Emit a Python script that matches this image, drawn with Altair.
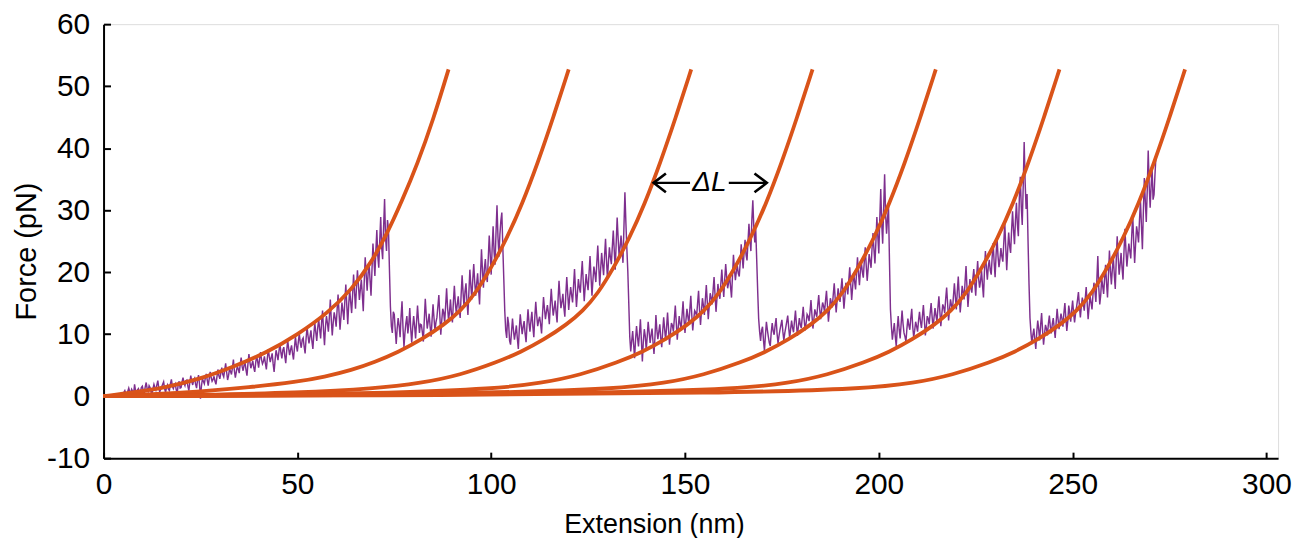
import altair as alt
import pandas as pd

# ---------------- data ----------------
# Measured force trace (purple), one value every 0.25 nm starting at 5.0 nm
trace_start = 5.0
trace_step = 0.25
trace_force = [
    0.2, 0.6, 0.9, 0.4, 0.1, 0.8, 1.3, 0.7, 0.5, 1.1, 0.8, 0.3, 1.9, 0.9, 0.4, 1.0, 1.2, 0.3, 0.6, 1.4,
    1.6, 0.9, 0.5, 1.5, 2.2, 1.2, 0.8, 1.7, 1.4, 0.7, 0.3, 1.2, 1.9, 1.4, 1.0, 1.8, 2.5, 1.3, 0.7, 1.1,
    1.5, 1.9, 2.3, 1.2, 0.6, 1.4, 1.8, 1.1, 0.9, 2.0, 2.7, 1.6, 1.2, 1.7, 2.0, 1.0, 0.5, 1.8, 2.4, 1.3,
    1.4, 2.3, 3.0, 2.1, 1.7, 2.5, 2.6, 1.6, 0.9, 2.2, 3.3, 2.4, 1.8, 2.6, 2.9, 1.9, 1.3, 2.6, 3.4, 2.0,
    -0.4, 1.6, 2.8, 2.4, 2.0, 2.9, 3.6, 2.6, 1.7, 2.8, 3.9, 3.0, 2.4, 2.7, 3.2, 2.4, 1.9, 3.1, 4.3, 3.3,
    2.8, 3.7, 4.6, 3.5, 3.1, 4.2, 5.3, 3.9, 2.6, 3.3, 4.4, 4.0, 3.5, 4.6, 5.9, 4.1, 3.0, 3.9, 4.8, 4.4,
    3.7, 5.1, 6.2, 4.8, 4.1, 5.0, 5.4, 4.2, 3.3, 5.2, 6.8, 5.5, 4.5, 5.1, 5.7, 4.6, 3.9, 5.4, 6.5, 5.6,
    4.6, 6.0, 7.1, 5.9, 5.2, 5.6, 6.4, 5.3, 4.3, 6.1, 7.6, 6.4, 5.5, 6.2, 6.9, 5.2, 3.9, 5.8, 7.4, 6.7,
    5.8, 7.2, 8.5, 7.0, 6.1, 7.4, 7.9, 6.5, 5.3, 7.3, 9.0, 7.7, 6.6, 7.5, 8.2, 6.9, 5.9, 7.8, 9.6, 8.1,
    7.2, 8.8, 10.1, 8.6, 7.8, 9.1, 9.4, 8.0, 6.9, 9.3, 11.2, 9.7, 8.5, 9.6, 10.6, 8.9, 7.6, 10.0, 11.8, 10.3,
    8.9, 11.0, 12.4, 10.8, 9.3, 11.9, 13.8, 10.6, 8.2, 11.2, 12.9, 11.8, 10.4, 12.7, 15.6, 12.3, 9.8, 11.9, 13.5, 12.6,
    11.2, 13.9, 16.4, 13.5, 10.7, 12.8, 15.1, 13.7, 12.3, 15.4, 18.0, 14.6, 11.6, 14.8, 17.2, 15.2, 13.4, 16.3, 19.6, 16.8,
    14.1, 17.6, 20.3, 17.9, 15.5, 17.2, 18.8, 16.4, 13.7, 18.5, 22.4, 19.6, 17.0, 19.8, 21.5, 18.7, 16.2, 20.4, 24.6, 22.0,
    19.4, 23.5, 26.8, 22.6, 20.7, 25.1, 28.9, 24.0, 22.1, 27.3, 31.8, 25.6, 23.4, 28.4, 27.0, 20.5, 14.5, 11.3, 10.2, 13.6,
    13.2, 10.7, 8.4, 10.9, 12.6, 11.4, 9.5, 12.8, 15.3, 11.0, 7.9, 10.2, 11.8, 12.9, 10.1, 11.6, 14.2, 10.8, 8.6, 11.1,
    12.9, 11.3, 9.3, 12.0, 14.6, 12.2, 10.2, 11.6, 11.5, 10.3, 8.8, 12.4, 15.7, 13.1, 10.9, 12.0, 13.3, 11.2, 9.6, 12.3,
    14.8, 12.6, 10.5, 11.9, 12.7, 14.5, 16.3, 13.0, 9.9, 12.2, 14.1, 13.5, 11.8, 14.6, 17.4, 14.3, 12.2, 13.6, 15.6, 13.2,
    11.9, 15.2, 17.8, 15.0, 13.4, 14.8, 16.1, 14.1, 12.6, 16.4, 19.5, 16.7, 14.3, 16.9, 18.2, 15.3, 13.1, 16.8, 20.4, 17.9,
    15.6, 18.8, 21.3, 18.4, 16.2, 18.1, 19.8, 17.2, 14.8, 19.6, 23.7, 20.3, 17.5, 20.6, 22.1, 19.5, 18.4, 22.3, 25.9, 22.8,
    19.6, 23.9, 27.4, 23.2, 21.2, 26.5, 30.8, 25.7, 22.5, 26.1, 28.3, 29.6, 24.1, 19.0, 13.8, 10.6, 9.4, 12.8, 11.7, 8.9,
    8.3, 10.4, 12.5, 10.6, 9.1, 10.2, 11.4, 9.3, 7.6, 10.8, 13.2, 11.5, 10.0, 11.2, 12.1, 10.1, 8.7, 11.6, 14.0, 11.9,
    10.4, 12.1, 13.6, 11.2, 9.5, 12.7, 15.2, 13.0, 11.3, 12.2, 12.8, 11.6, 10.1, 13.3, 16.0, 14.1, 12.4, 13.6, 14.7, 13.4,
    11.6, 14.7, 17.3, 14.9, 13.0, 14.1, 15.4, 13.5, 11.9, 15.6, 18.6, 16.0, 14.2, 15.2, 16.5, 14.3, 12.8, 16.4, 19.2, 16.5,
    13.9, 16.0, 17.6, 16.3, 15.1, 17.8, 20.5, 17.2, 14.4, 16.6, 18.9, 17.5, 16.7, 19.5, 21.8, 18.4, 15.3, 17.6, 19.7, 18.2,
    17.1, 19.9, 22.6, 19.3, 16.2, 18.7, 20.9, 19.8, 18.4, 21.5, 24.3, 21.0, 17.8, 20.6, 23.1, 21.2, 19.5, 22.6, 25.4, 21.9,
    18.9, 21.6, 24.0, 22.4, 21.3, 24.1, 26.7, 23.5, 20.4, 24.7, 28.8, 25.5, 22.6, 24.0, 25.9, 23.9, 21.5, 27.3, 32.9, 28.0,
    23.8, 20.1, 14.9, 9.6, 7.2, 8.9, 10.5, 8.3, 6.1, 9.2, 11.3, 9.5, 8.0, 10.1, 12.4, 9.0, 5.6, 8.8, 10.8, 9.7,
    7.4, 9.6, 12.0, 10.3, 8.6, 9.9, 10.9, 8.7, 6.8, 9.5, 13.1, 10.6, 9.2, 10.4, 11.6, 9.3, 7.9, 10.5, 12.7, 10.8,
    9.0, 11.1, 13.5, 10.9, 8.3, 10.2, 11.8, 11.4, 10.4, 12.5, 14.6, 11.9, 9.1, 11.0, 12.9, 11.7, 10.8, 13.1, 15.3, 12.4,
    10.2, 12.3, 14.1, 12.8, 11.7, 14.0, 16.2, 13.1, 10.6, 12.4, 13.8, 13.5, 12.9, 15.0, 17.0, 13.9, 11.5, 13.7, 15.8, 14.6,
    13.1, 15.6, 17.9, 15.2, 12.4, 14.5, 16.6, 15.9, 14.8, 17.1, 19.2, 16.3, 13.6, 15.8, 18.1, 16.5, 15.7, 18.2, 20.4, 17.9,
    16.0, 18.9, 21.3, 19.2, 17.4, 18.3, 19.6, 17.6, 15.9, 19.4, 22.8, 20.5, 18.7, 20.1, 21.0, 19.8, 19.3, 21.6, 24.5, 22.4,
    20.6, 23.3, 25.2, 22.8, 21.9, 24.9, 27.8, 25.1, 23.4, 28.5, 31.6, 27.2, 24.8, 26.9, 22.0, 17.0, 12.5, 10.4, 8.9, 10.6,
    11.2, 9.0, 7.3, 9.8, 12.0, 10.7, 9.6, 8.6, 8.1, 10.3, 11.8, 10.5, 9.9, 11.4, 12.6, 10.1, 8.5, 9.7, 10.7, 11.5,
    12.3, 10.4, 9.0, 10.2, 11.1, 12.0, 13.0, 11.1, 9.4, 10.8, 12.2, 11.0, 10.3, 12.1, 13.8, 11.6, 9.7, 11.2, 12.6, 11.5,
    11.0, 12.7, 14.4, 12.3, 10.6, 11.8, 13.2, 12.9, 12.1, 13.6, 15.5, 13.1, 10.9, 12.4, 14.0, 13.3, 12.8, 14.7, 16.3, 14.0,
    12.4, 13.9, 15.1, 14.5, 13.6, 15.4, 17.0, 14.6, 12.0, 13.8, 15.8, 15.1, 14.3, 16.4, 18.2, 15.7, 13.5, 15.5, 17.4, 16.2,
    15.2, 17.3, 19.0, 16.6, 14.1, 16.0, 18.3, 17.5, 16.4, 18.7, 20.8, 18.1, 15.5, 17.6, 19.9, 18.5, 17.2, 19.8, 22.4, 19.9,
    17.9, 20.2, 21.6, 20.0, 19.1, 21.7, 24.0, 21.1, 18.6, 20.6, 22.9, 21.8, 20.7, 23.8, 26.3, 23.6, 21.4, 24.9, 28.9, 25.7,
    23.0, 28.6, 33.4, 27.9, 24.6, 30.3, 35.8, 29.4, 26.2, 28.7, 30.5, 21.8, 14.0, 11.2, 9.1, 10.5, 11.8, 9.6, 8.0, 10.9,
    12.9, 10.8, 9.3, 11.6, 13.8, 11.7, 10.2, 9.6, 8.8, 10.9, 12.5, 11.4, 10.7, 12.6, 14.1, 11.2, 9.5, 10.6, 12.0, 11.3,
    10.4, 12.2, 13.6, 12.0, 11.0, 12.9, 14.7, 12.3, 9.8, 11.1, 12.9, 12.5, 11.6, 13.4, 15.0, 12.8, 10.9, 12.7, 14.2, 13.0,
    12.0, 14.2, 16.1, 13.6, 11.3, 13.2, 14.8, 14.3, 13.4, 15.7, 17.5, 14.9, 12.2, 14.0, 15.6, 14.6, 13.9, 16.1, 18.2, 16.0,
    14.0, 16.9, 19.3, 16.2, 13.5, 15.4, 17.8, 16.8, 15.6, 18.4, 21.0, 17.5, 14.4, 16.6, 18.9, 17.4, 16.7, 18.9, 20.5, 18.3,
    16.2, 19.4, 21.8, 19.0, 17.5, 18.6, 20.3, 17.9, 15.9, 20.1, 23.4, 20.7, 18.8, 20.9, 22.0, 20.3, 19.6, 22.5, 24.7, 21.6,
    19.2, 22.8, 25.6, 22.6, 20.8, 22.1, 23.9, 22.5, 21.7, 24.9, 27.9, 24.0, 20.3, 23.6, 26.4, 24.2, 23.1, 26.7, 29.8, 26.9,
    24.5, 28.3, 31.2, 27.7, 25.8, 31.9, 35.4, 30.6, 27.6, 33.8, 41.0, 34.5, 30.2, 32.6, 25.0, 18.1, 12.6, 10.2, 8.4, 9.9,
    10.9, 9.1, 7.6, 10.3, 12.2, 10.8, 9.0, 11.5, 13.4, 10.6, 8.3, 10.0, 11.5, 10.9, 9.8, 11.7, 13.0, 11.2, 10.1, 11.6,
    12.6, 11.0, 9.4, 11.9, 14.1, 12.4, 10.8, 12.2, 13.3, 12.5, 11.2, 13.4, 15.0, 12.6, 10.5, 12.1, 14.6, 13.5, 12.0, 13.9,
    15.4, 13.4, 11.9, 13.3, 14.3, 15.5, 16.8, 14.6, 12.7, 14.5, 15.9, 14.9, 13.8, 15.7, 17.6, 15.0, 12.4, 14.4, 16.2, 15.1,
    14.0, 16.4, 18.3, 16.9, 15.2, 18.8, 22.6, 17.5, 14.8, 16.3, 19.0, 17.8, 16.5, 19.0, 21.2, 18.2, 15.9, 19.6, 23.5, 20.2,
    18.0, 20.5, 22.4, 19.6, 17.3, 21.9, 25.8, 22.4, 19.6, 21.2, 23.1, 20.7, 18.8, 23.3, 27.0, 23.6, 20.9, 22.8, 24.6, 23.4,
    22.2, 25.9, 29.3, 25.0, 21.5, 24.6, 27.4, 26.3, 24.8, 28.4, 31.6, 27.5, 23.7, 29.8, 35.2, 31.4, 28.1, 33.2, 39.6, 34.0,
    30.4, 33.9, 36.8, 31.7, 32.5, 35.8, 38.7,
]
trace_ext = [round(trace_start + trace_step * i, 2) for i in range(len(trace_force))]

# Worm-like-chain fits (orange), read point by point
c1_ext = [0, 8, 16, 25, 33, 42, 50, 58, 64, 69, 73, 77, 81, 85, 89]
c1_force = [0, 0.6, 1.4, 2.8, 4.6, 7.0, 9.9, 13.5, 17.2, 21.5, 26, 31.5, 37.5, 44.5, 52.7]
c2_ext = [0, 12.5, 25, 37.5, 50, 57, 64, 70, 76, 82, 88, 92, 96, 100, 104, 108, 112, 116, 120]
c2_force = [0, 0.3, 0.75, 1.4, 2.3, 3.1, 4.2, 5.5, 7.1, 9.1, 11.6, 13.7, 16.6, 20.7, 25.4, 31.0, 37.6, 44.9, 52.7]
c3_ext = [0, 25, 50, 70, 82, 92, 101.6, 107.6, 113.6, 119.6, 123.6, 127.6, 131.6, 135.6, 139.6, 143.6, 147.6, 151.6]
c3_force = [0, 0.2, 0.55, 1.2, 2.1, 3.4, 5.5, 7.1, 9.1, 11.6, 13.7, 16.6, 20.7, 25.4, 31.0, 37.6, 44.9, 52.7]
c4_ext = [0, 40, 75, 101, 113, 123, 132.9, 138.9, 144.9, 150.9, 154.9, 158.9, 162.9, 166.9, 170.9, 174.9, 178.9, 182.9]
c4_force = [0, 0.15, 0.5, 1.2, 2.1, 3.4, 5.5, 7.1, 9.1, 11.6, 13.7, 16.6, 20.7, 25.4, 31.0, 37.6, 44.9, 52.7]
c5_ext = [0, 50, 100, 132.8, 144.8, 154.8, 164.7, 170.7, 176.7, 182.7, 186.7, 190.7, 194.7, 198.7, 202.7, 206.7, 210.7, 214.7]
c5_force = [0, 0.15, 0.5, 1.2, 2.1, 3.4, 5.5, 7.1, 9.1, 11.6, 13.7, 16.6, 20.7, 25.4, 31.0, 37.6, 44.9, 52.7]
c6_ext = [0, 70, 130, 164.7, 176.7, 186.7, 196.6, 202.6, 208.6, 214.6, 218.6, 222.6, 226.6, 230.6, 234.6, 238.6, 242.6, 246.6]
c6_force = [0, 0.15, 0.5, 1.2, 2.1, 3.4, 5.5, 7.1, 9.1, 11.6, 13.7, 16.6, 20.7, 25.4, 31.0, 37.6, 44.9, 52.7]
c7_ext = [0, 90, 160, 197, 209, 219, 229, 235, 241, 247, 251, 255, 259, 263, 267, 271, 275, 279]
c7_force = [0, 0.15, 0.5, 1.2, 2.1, 3.4, 5.5, 7.1, 9.1, 11.6, 13.7, 16.6, 20.7, 25.4, 31.0, 37.6, 44.9, 52.7]

# ΔL annotation (extension in nm, force in pN)
dl_force = 34.4
dl_left_tip = 141.9
dl_left_end = 151.3
dl_right_start = 161.3
dl_right_tip = 171.1
dl_label_x = 156.3

x_ticks = [0, 50, 100, 150, 200, 250, 300]
y_ticks = [-10, 0, 10, 20, 30, 40, 50, 60]

# ---------------- tables ----------------
trace_df = pd.DataFrame({"ext": trace_ext, "force": trace_force})
curves = [(c1_ext, c1_force), (c2_ext, c2_force), (c3_ext, c3_force), (c4_ext, c4_force),
          (c5_ext, c5_force), (c6_ext, c6_force), (c7_ext, c7_force)]
rows = []
for k, (xs_, fs_) in enumerate(curves):
    for i, (x, f) in enumerate(zip(xs_, fs_)):
        rows.append({"ext": x, "force": f, "curve": f"c{k+1}", "i": i})
wlc_df = pd.DataFrame(rows)
shaft_df = pd.DataFrame({"x1": [dl_left_tip, dl_right_start], "x2": [dl_left_end, dl_right_tip],
                         "force": [dl_force, dl_force]})
left_df = pd.DataFrame({"ext": [dl_left_tip], "force": [dl_force]})
right_df = pd.DataFrame({"ext": [dl_right_tip], "force": [dl_force]})
label_df = pd.DataFrame({"ext": [dl_label_x], "force": [dl_force], "t": ["ΔL"]})

W, H = 1180, 436
FONT = "Liberation Sans"
xs = alt.Scale(domain=[0, 303], nice=False, zero=False)
ys = alt.Scale(domain=[-10, 60], nice=False, zero=False)

x_main = alt.Axis(orient="bottom", values=x_ticks, ticks=False, grid=False, domainColor="black",
                  domainWidth=2, labelFont=FONT, labelFontSize=30, labelColor="black",
                  labelPadding=12, labelFlush=False, labelOverlap=False,
                  title="Extension (nm)", titleFont=FONT, titleFontSize=27,
                  titleFontWeight="normal", titleColor="black", titleY=67, titleX=553,
                  titleBaseline="middle")
y_main = alt.Axis(orient="left", values=y_ticks, ticks=False, grid=False, domainColor="black",
                  domainWidth=2, labelFont=FONT, labelFontSize=30, labelColor="black",
                  labelPadding=14, labelFlush=False, labelOverlap=False,
                  labelExpr="'' + datum.value",
                  title="Force (pN)", titleFont=FONT, titleFontSize=29,
                  titleFontWeight="normal", titleColor="black", titleX=-62, titleY=228)
x_ticks_ax = alt.Axis(orient="top", offset=-H, values=x_ticks, labels=False, domain=False,
                      ticks=True, tickSize=6, tickWidth=2, tickColor="black", grid=False, title=None)
y_ticks_ax = alt.Axis(orient="right", offset=-W, values=y_ticks, labels=False, domain=False,
                      ticks=True, tickSize=7, tickWidth=2, tickColor="black", grid=False, title=None)

trace = alt.Chart(trace_df).mark_line(color="#7E2F8E", strokeWidth=1.45).encode(
    x=alt.X("ext:Q", scale=xs, axis=x_main),
    y=alt.Y("force:Q", scale=ys, axis=y_main),
    order="ext:Q",
)
wlc = alt.Chart(wlc_df).mark_line(color="#D95319", strokeWidth=3.8, interpolate="basis").encode(
    x=alt.X("ext:Q", scale=xs, axis=x_ticks_ax),
    y=alt.Y("force:Q", scale=ys, axis=y_ticks_ax),
    detail="curve:N",
    order="i:Q",
)
shafts = alt.Chart(shaft_df).mark_rule(color="black", strokeWidth=2.5).encode(
    x=alt.X("x1:Q", scale=xs, axis=None), x2="x2:Q",
    y=alt.Y("force:Q", scale=ys, axis=None),
)
left_head = alt.Chart(left_df).mark_point(shape="M1.3,-1L0,0L1.3,1", size=361, filled=False,
                                           strokeWidth=2.6, color="black", opacity=1).encode(
    x=alt.X("ext:Q", scale=xs, axis=None), y=alt.Y("force:Q", scale=ys, axis=None))
right_head = alt.Chart(right_df).mark_point(shape="M-1.3,-1L0,0L-1.3,1", size=361, filled=False,
                                             strokeWidth=2.6, color="black", opacity=1).encode(
    x=alt.X("ext:Q", scale=xs, axis=None), y=alt.Y("force:Q", scale=ys, axis=None))
label = alt.Chart(label_df).mark_text(font=FONT, fontSize=28, fontStyle="italic", color="black",
                                      align="center", baseline="middle").encode(
    x=alt.X("ext:Q", scale=xs, axis=None), y=alt.Y("force:Q", scale=ys, axis=None), text="t:N")

chart = alt.layer(trace, wlc, shafts, left_head, right_head, label).resolve_axis(
    x="independent", y="independent"
).properties(
    width=W, height=H,
    autosize=alt.AutoSizeParams(type="none"),
    padding={"left": 96, "top": 15, "right": 14, "bottom": 79},
).configure_view(stroke=None).configure(background="white")

chart.save("out.html", embed_options={"renderer": "svg", "actions": False})
